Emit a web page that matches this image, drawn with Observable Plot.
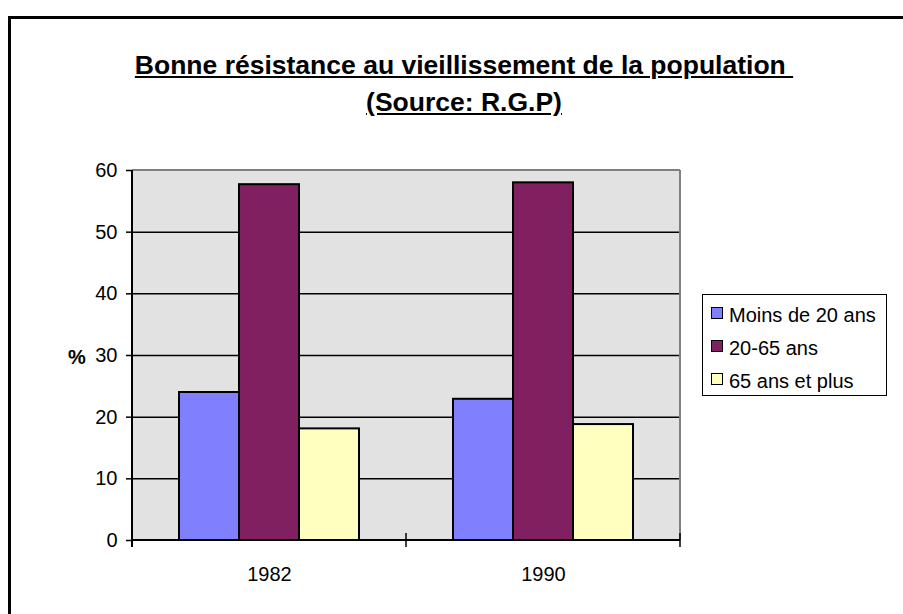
<!DOCTYPE html>
<html><head><meta charset="utf-8">
<script src="https://cdn.jsdelivr.net/npm/d3@7"></script>
<script src="https://cdn.jsdelivr.net/npm/@observablehq/plot@0.6"></script>
<style>
body{margin:0;background:#fff;font-family:"Liberation Sans",Arial,sans-serif;color:#000;}
#wrap{position:relative;width:903px;height:614px;overflow:hidden;}
#border{position:absolute;left:8px;top:16px;width:1000px;height:1000px;border:3px solid #000;box-sizing:border-box;}
#chart{position:absolute;left:0;top:0;}
#title{position:absolute;left:0;width:928px;top:47px;text-align:center;font-weight:bold;font-size:26.5px;line-height:37px;text-decoration:underline;white-space:nowrap;}
#pct{position:absolute;left:68px;top:347px;font-weight:bold;font-size:20px;line-height:20px;}
#legend{position:absolute;left:702px;top:294px;width:185px;height:102px;border:1.5px solid #000;box-sizing:border-box;background:#fff;}
.row{position:absolute;left:8px;font-size:20px;line-height:20px;white-space:nowrap;}
.sw{position:absolute;left:0;width:12px;height:12px;border:1.5px solid #000;box-sizing:border-box;}
.row span.t{position:absolute;left:18px;top:0;}
</style></head>
<body>
<div id="wrap">
  <div id="border"></div>
  <div id="chart"></div>
  <div id="title">Bonne résistance au vieillissement de la population&nbsp;<br>(Source: R.G.P)</div>
  <div id="pct">%</div>
  <div id="legend"></div>
</div>
<script>
const years = ["1982", "1990"];
const series = ["Moins de 20 ans", "20-65 ans", "65 ans et plus"];
const colors = ["#8080ff", "#802060", "#ffffc0"];
const values1982 = [24, 57.7, 18.1];
const values1990 = [22.9, 58, 18.8];
const yTicks = [0, 10, 20, 30, 40, 50, 60];

const data = years.flatMap((yr, i) => series.map((s, j) => ({year: yr, series: s, value: (i ? values1990 : values1982)[j]})));

const plot = Plot.plot({
  width: 903, height: 614,
  marginTop: 170, marginRight: 223, marginBottom: 74, marginLeft: 132,
  style: {fontFamily: "'Liberation Sans', Arial, sans-serif", fontSize: "20px", background: "transparent", color: "#000"},
  fx: {domain: years, padding: 0, label: null},
  x: {domain: series, paddingInner: 0, paddingOuter: 0.758, axis: null},
  y: {domain: [0, 60], label: null},
  color: {domain: series, range: colors},
  marks: [
    Plot.gridY(yTicks.slice(1, -1), {stroke: "#000", strokeOpacity: 1, strokeWidth: 1.5}),
    Plot.barY(data, {fx: "year", x: "series", y: "value", fill: "series", stroke: "#000", strokeWidth: 2}),
    Plot.axisY(yTicks, {tickSize: 6, tickPadding: 9, fontSize: 20, stroke: "#000", strokeWidth: 1.5, label: null}),
    Plot.axisFx({anchor: "bottom", tickSize: 0, tickPadding: 26, fontSize: 20, label: null})
  ]
});
document.getElementById("chart").appendChild(plot);

// plot background, axis lines and border drawn from the library's scales
const yS = plot.scale("y"), fxS = plot.scale("fx");
const svg = d3.select(plot);
const y0 = yS.apply(0), yTop = yS.apply(60);
const xL = fxS.apply(years[0]), xR = fxS.apply(years[years.length - 1]) + fxS.bandwidth;
svg.insert("rect", ":first-child").attr("x", xL).attr("y", yTop).attr("width", xR - xL).attr("height", y0 - yTop).attr("fill", "#e2e2e2");
const g = svg.append("g");
g.append("line").attr("x1", xL).attr("x2", xR).attr("y1", yTop).attr("y2", yTop).attr("stroke", "#808080").attr("stroke-width", 2);
g.append("line").attr("x1", xR).attr("x2", xR).attr("y1", yTop).attr("y2", y0).attr("stroke", "#808080").attr("stroke-width", 2);
g.append("line").attr("x1", xL).attr("x2", xL).attr("y1", yTop).attr("y2", y0 + 7).attr("stroke", "#000").attr("stroke-width", 2);
g.append("line").attr("x1", xL).attr("x2", xR).attr("y1", y0).attr("y2", y0).attr("stroke", "#000").attr("stroke-width", 2);
const edges = years.map(yr => fxS.apply(yr)).concat([xR]);
edges.forEach(x => g.append("line").attr("x1", x).attr("x2", x).attr("y1", y0 - 7).attr("y2", y0 + 7).attr("stroke", "#000").attr("stroke-width", 1.5));

// legend
const leg = d3.select("#legend");
const rowTops = [10, 43, 76];
series.forEach((s, i) => {
  const r = leg.append("div").attr("class", "row").style("top", rowTops[i] + "px");
  r.append("div").attr("class", "sw").style("top", "2px").style("background", colors[i]);
  r.append("span").attr("class", "t").text(s);
});
</script>
</body></html>
